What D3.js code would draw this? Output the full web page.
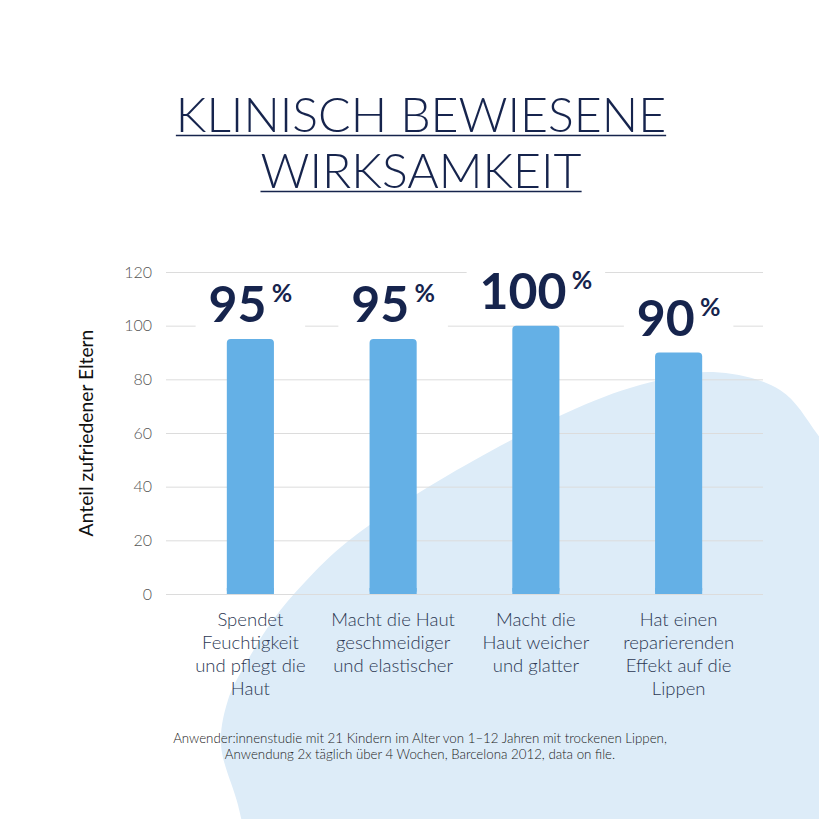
<!DOCTYPE html>
<html>
<head>
<meta charset="utf-8">
<script src="https://cdn.jsdelivr.net/npm/d3@7"></script>
<style>
html,body{margin:0;padding:0;background:#fff;}
svg{display:block;}
</style>
</head>
<body>
<svg id="chart" width="840" height="840"></svg>
<script>
const categories = [
  ["Spendet", "Feuchtigkeit", "und pflegt die", "Haut"],
  ["Macht die Haut", "geschmeidiger", "und elastischer"],
  ["Macht die", "Haut weicher", "und glatter"],
  ["Hat einen", "reparierenden", "Effekt auf die", "Lippen"]
];
const values = [95, 95, 100, 90];
const yTicks = [0, 20, 40, 60, 80, 100, 120];
const titleLines = ["KLINISCH BEWIESENE", "WIRKSAMKEIT"];
const yLabel = "Anteil zufriedener Eltern";
const footnote = [
  "Anwender:innenstudie mit 21 Kindern im Alter von 1–12 Jahren mit trockenen Lippen,",
  "Anwendung 2x täglich über 4 Wochen, Barcelona 2012, data on file."
];

const navy = "#16244d";
const barColor = "#64b0e6";
const blobColor = "#ddecf8";
const font = "Lato, 'Open Sans', sans-serif";

const svg = d3.select("#chart");

// background decorative shape
svg.append("clipPath").attr("id", "clip").append("rect")
  .attr("x", 0).attr("y", 0).attr("width", 819).attr("height", 819);
const edge = [[250,860],[238,805],[221,745],[228,700],[245,665],[273,620],[305,582],[347,542],[440,480],[566,413],[640,385],[713,372],[780,390],[818,435],[860,500]];
const edgePath = d3.line().curve(d3.curveCatmullRom)(edge);
svg.append("path")
  .attr("clip-path", "url(#clip)")
  .attr("d", edgePath + "L900,900L250,900Z")
  .attr("fill", blobColor);

// title
const title = svg.append("g");
titleLines.forEach((t, i) => {
  const tx = title.append("text")
    .attr("x", 421).attr("y", 132 + i * 56)
    .attr("text-anchor", "middle")
    .attr("font-family", font).attr("font-weight", 300)
    .attr("font-size", 48.2).attr("fill", navy)
    .text(t);
  const bb = tx.node().getBBox();
  title.append("line")
    .attr("x1", bb.x).attr("x2", bb.x + bb.width)
    .attr("y1", 135.5 + i * 56).attr("y2", 135.5 + i * 56)
    .attr("stroke", navy).attr("stroke-width", 1.5);
});

// scales
const x = d3.scaleBand().domain(d3.range(values.length))
  .range([179, 750]).paddingInner(0.67).paddingOuter(0.335);
const y = d3.scaleLinear().domain([0, 120]).range([594, 272]);

// grid / y axis
const yAxis = svg.append("g").attr("transform", "translate(166,0)")
  .call(d3.axisLeft(y).tickValues(yTicks).tickSize(-597).tickPadding(14));
yAxis.select(".domain").remove();
yAxis.selectAll(".tick line").attr("stroke", "#dcdcdc").attr("stroke-width", 1);
yAxis.selectAll(".tick text")
  .attr("font-family", font).attr("font-weight", 300)
  .attr("font-size", 16).attr("fill", "#555");

// y label
svg.append("text")
  .attr("transform", "translate(93,433) rotate(-90)")
  .attr("text-anchor", "middle")
  .attr("font-family", font).attr("font-weight", 400)
  .attr("font-size", 19.3).attr("fill", "#111")
  .text(yLabel);

// bars
svg.append("g").selectAll("rect").data(values).join("rect")
  .attr("x", (d, i) => x(i)).attr("width", x.bandwidth())
  .attr("y", d => y(d)).attr("height", d => y(0) - y(d))
  .attr("rx", 4).attr("ry", 4)
  .attr("fill", barColor);
// square bottom corners
svg.append("g").selectAll("rect").data(values).join("rect")
  .attr("x", (d, i) => x(i)).attr("width", x.bandwidth())
  .attr("y", d => y(0) - Math.min(6, y(0) - y(d))).attr("height", d => Math.min(6, y(0) - y(d)))
  .attr("fill", barColor);

// value labels
const labels = svg.append("g");
values.forEach((v, i) => {
  const cx = x(i) + x.bandwidth() / 2;
  const g = labels.append("g");
  const t = g.append("text")
    .attr("x", cx).attr("y", y(v) - 17)
    .attr("text-anchor", "middle")
    .attr("font-family", font).attr("fill", navy);
  t.append("tspan").attr("font-size", 50).attr("font-weight", 700).text(v);
  t.append("tspan").attr("font-size", 25).attr("font-weight", 700)
    .attr("dx", 5).attr("dy", -20).text("%");
  const bb = t.node().getBBox();
  g.insert("rect", "text")
    .attr("x", bb.x - 13).attr("width", bb.width + 26)
    .attr("y", y(v) - 62).attr("height", 52)
    .attr("fill", "#fff");
});

// category labels
const cat = svg.append("g");
categories.forEach((lines, i) => {
  const cx = x(i) + x.bandwidth() / 2;
  const t = cat.append("text")
    .attr("text-anchor", "middle")
    .attr("font-family", font).attr("font-weight", 300)
    .attr("font-size", 18.5).attr("fill", "#2c3853");
  lines.forEach((l, j) => {
    t.append("tspan").attr("x", cx).attr("y", 626 + j * 23).text(l);
  });
});

// footnote
footnote.forEach((l, j) => {
  svg.append("text")
    .attr("x", 420).attr("y", 743 + j * 16)
    .attr("text-anchor", "middle")
    .attr("font-family", font).attr("font-weight", 300).attr("font-size", 13.3)
    .attr("fill", "#222")
    .text(l);
});
</script>
</body>
</html>
